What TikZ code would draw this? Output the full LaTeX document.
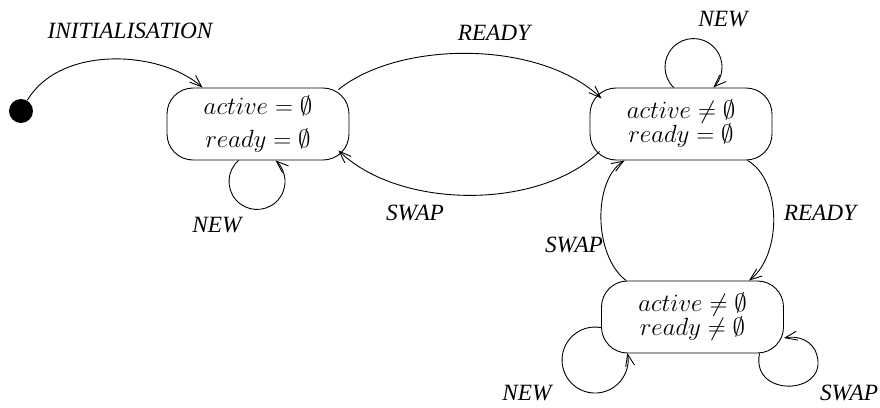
\documentclass[tikz,border=0pt]{standalone}
\usepackage{fontspec}
\setmainfont{Liberation Serif}
\usetikzlibrary{arrows.meta}
\begin{document}
\begin{tikzpicture}[x=1pt,y=1pt,
  >={Straight Barb[length=12pt,width=9pt]},
  every path/.style={line width=0.9pt},
  state/.style={draw,rounded corners=26pt,minimum width=182pt,minimum height=72pt,
    inner sep=0pt,align=center,font=\fontsize{24.5}{24}\selectfont},
  lbl/.style={font=\fontsize{23.3}{26}\selectfont\itshape,inner sep=0pt},
  initdot/.style={circle,fill=black,minimum size=24pt,inner sep=0pt}]
\useasboundingbox (0,0) rectangle (880,-407);
\node[initdot] (init) at (21,-111) {};
\node[state] (b1) at (258,-124) {$active = \emptyset$\\[9pt]$ready = \emptyset$};
\node[state] (b2) at (681,-124) {$active \neq \emptyset$\\$ready = \emptyset$};
\node[state] (b3) at (692.5,-317) {$active \neq \emptyset$\\$ready \neq \emptyset$};
% labels
\node[lbl] (linit) at (130,-31) {INITIALISATION};
\node[lbl] (lready1) at (494,-33) {READY};
\node[lbl] (lswap1) at (415,-213) {SWAP};
\node[lbl] (lnew1) at (217,-225) {NEW};
\node[lbl] (lnew2) at (723,-19) {NEW};
\node[lbl] (lready2) at (820,-213) {READY};
\node[lbl] (lswap2) at (574,-245) {SWAP};
\node[lbl] (lnew3) at (527,-393) {NEW};
\node[lbl] (lswap3) at (849,-393) {SWAP};
% edges
\draw[->] (init) .. controls (60,-45) and (160,-50) .. ([xshift=36pt]b1.north west);
\draw[->] ([xshift=-11pt,yshift=-2pt]b1.north east) .. controls (400,-40) and (540,-40) .. ([xshift=12pt,yshift=-11pt]b2.north west);
\draw[->] ([xshift=10pt,yshift=9pt]b2.south west) .. controls (540,-210) and (400,-210) .. ([xshift=-11pt,yshift=10pt]b1.south east);
\draw[->] ([xshift=-19.5pt]b1.south) arc[start angle=131.4,end angle=408.6,radius=28pt];
\draw[->] ([xshift=-7.3pt]b2.north) arc[start angle=226,end angle=-46,radius=28.5pt];
\draw[->] ([xshift=-25pt]b2.south east) .. controls (782,-180) and (782,-255) .. ([xshift=-35pt]b3.north east);
\draw[->] ([xshift=25pt]b3.north west) .. controls (593,-255) and (593,-180) .. ([xshift=35pt]b2.south west);
\draw[->] ([yshift=-10.6pt]b3.west) arc[start angle=79.5,end angle=372.3,radius=33pt];
\draw[->] ([xshift=67pt]b3.south) .. controls (750,-400) and (835,-395) .. (815,-350) .. controls (808,-338) and (795,-336) .. ([yshift=-21pt]b3.east);
\end{tikzpicture}
\end{document}
